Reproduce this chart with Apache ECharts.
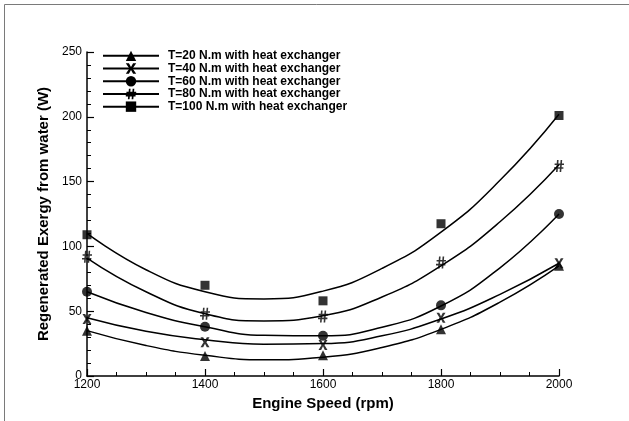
<!DOCTYPE html>
<html>
<head>
<meta charset="utf-8">
<script src="https://cdn.jsdelivr.net/npm/echarts@6/dist/echarts.min.js"></script>
<style>
  html, body { margin: 0; padding: 0; background: #fff; }
  #chart { width: 629px; height: 421px; }
</style>
</head>
<body>
<div id="chart"></div>
<script>
// measured points
const rpm = [1200, 1400, 1600, 1800, 2000]
const t20 = [35, 15.5, 16, 36, 85]
const t40 = [44, 26, 24, 45, 87]
const t60 = [65, 38, 31, 54.5, 125]
const t80 = [92, 48, 46, 87.5, 162]
const t100 = [109, 70, 58, 117.5, 201]

// fitted curves, every 100 rpm
const fitRpm = [1200, 1300, 1400, 1500, 1600, 1700, 1800, 1900, 2000]
const fit20 = [35, 23.5, 16, 12.5, 14.5, 22, 36, 57, 85]
const fit40 = [45, 34.5, 28, 24.5, 25, 31, 44, 63, 87]
const fit60 = [65, 49, 38, 31.4, 31, 37.6, 54, 83.5, 125]
const fit80 = [91, 65, 48, 42.5, 46.5, 61, 85, 119, 163]
const fit100 = [110, 82, 65, 59.5, 65.5, 83, 111, 151, 202]

const names = [
  'T=20 N.m with heat exchanger',
  'T=40 N.m with heat exchanger',
  'T=60 N.m with heat exchanger',
  'T=80 N.m with heat exchanger',
  'T=100 N.m with heat exchanger'
]

const crossPath = 'path://M0,0 L3,0 L5,3.6 L7,0 L10,0 L6.6,5 L10,10 L7,10 L5,6.4 L3,10 L0,10 L3.4,5 Z'
const hashPath = 'path://M3,0 L4.6,0 L3.6,12 L2,12 Z M6.6,0 L8.2,0 L7.2,12 L5.6,12 Z M0.6,3.4 L10,3.4 L10,5 L0.6,5 Z M0,7.2 L9.4,7.2 L9.4,8.8 L0,8.8 Z'

const symbols = ['triangle', crossPath, 'circle', hashPath, 'rect']
const symbolSizes = [10, [9, 10], 10, [10, 12], 9]
const points = [t20, t40, t60, t80, t100]
const fits = [fit20, fit40, fit60, fit80, fit100]

const zip = (xs, ys) => xs.map((x, i) => [x, ys[i]])

const series = []
names.forEach((name, i) => {
  series.push({
    name: name,
    type: 'line',
    data: zip(fitRpm, fits[i]),
    smooth: 0.5,
    showSymbol: false,
    symbol: symbols[i],
    symbolSize: symbolSizes[i],
    lineStyle: { color: '#000', width: 1.5 },
    itemStyle: { color: '#000' },
    silent: true,
    animation: false
  })
})
names.forEach((name, i) => {
  series.push({
    name: name,
    type: 'scatter',
    data: zip(rpm, points[i]),
    symbol: symbols[i],
    symbolSize: symbolSizes[i],
    itemStyle: { color: '#000' },
    animation: false,
    z: 3
  })
})

const chart = echarts.init(document.getElementById('chart'))
chart.setOption({
  backgroundColor: '#fff',
  textStyle: { fontFamily: 'Liberation Sans, Arial, sans-serif', color: '#000' },
  grid: { left: 87, right: 70, top: 52, bottom: 45, containLabel: false },
  legend: {
    data: names,
    orient: 'vertical',
    left: 102,
    top: 49.5,
    padding: 0,
    itemWidth: 56,
    itemHeight: 13,
    itemGap: 0,
    textStyle: { fontSize: 12, fontWeight: 'bold', color: '#000', lineHeight: 12.7, padding: [0, 0, 0, 4] }
  },
  xAxis: {
    type: 'value',
    min: 1200,
    max: 2000,
    interval: 200,
    name: 'Engine Speed (rpm)',
    nameLocation: 'middle',
    nameGap: 20,
    nameTextStyle: { fontSize: 15, fontWeight: 'bold', color: '#000' },
    axisLine: { lineStyle: { color: '#000', width: 1.5 } },
    axisTick: { inside: true, length: 7, lineStyle: { color: '#000', width: 1.2 } },
    minorTick: { show: true, splitNumber: 4, length: 4, lineStyle: { color: '#000', width: 1 } },
    axisLabel: { fontSize: 12, color: '#000', margin: 3, formatter: v => String(v) },
    splitLine: { show: false }
  },
  yAxis: {
    type: 'value',
    min: 0,
    max: 250,
    interval: 50,
    name: 'Regenerated Exergy from water (W)',
    nameLocation: 'middle',
    nameGap: 34,
    nameTextStyle: { fontSize: 15, fontWeight: 'bold', color: '#000' },
    axisLine: { show: true, lineStyle: { color: '#000', width: 1.5 } },
    axisTick: { show: true, inside: true, length: 7, lineStyle: { color: '#000', width: 1.2 } },
    minorTick: { show: true, splitNumber: 5, length: 4, lineStyle: { color: '#000', width: 1 } },
    axisLabel: { fontSize: 12, color: '#000', margin: 5 },
    splitLine: { show: false }
  },
  graphic: [{
    type: 'polyline',
    shape: { points: [[4.5, 421], [4.5, 4.5], [629, 4.5]] },
    style: { stroke: '#7a7a7a', lineWidth: 1, fill: null },
    silent: true
  }],
  series: series
})
</script>
</body>
</html>
